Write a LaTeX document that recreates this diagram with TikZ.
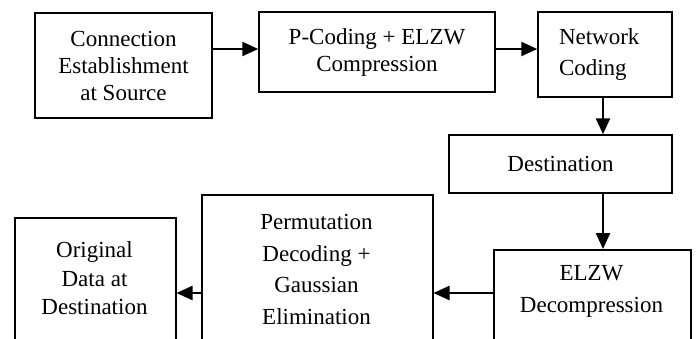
\documentclass[tikz,border=0pt]{standalone}
\usepackage{fontspec}
\setmainfont{Liberation Serif}
\usetikzlibrary{arrows.meta}
\begin{document}
\begin{tikzpicture}[x=1pt,y=1pt,
  box/.style={draw=black, line width=1.5pt, rectangle, inner sep=0pt},
  txt/.style={align=center, inner sep=0pt, font=\fontsize{23}{27}\selectfont},
  arr/.style={line width=2.4pt, -{Triangle[length=16pt,width=14pt]}}]
\clip (0,0) rectangle (696,-338);

% top row
\node[box, txt, minimum width=177pt, minimum height=105pt] (b1) at (123.5,-65.5)
  {Connection\\Establishment\\at Source};
\node[box, txt, minimum width=236pt, minimum height=80pt] (b2) at (377,-52)
  {P-Coding + ELZW\\Compression};
\node[box, txt, font=\fontsize{23}{31}\selectfont, align=left, text width=92pt,
  minimum width=134pt, minimum height=85pt] (b3) at (605,-54.5)
  {Network\\Coding};

% destination
\node[box, txt, minimum width=223pt, minimum height=58pt] (b4) at (560.5,-164)
  {Destination};

% bottom row (boxes run past the lower edge)
\node[box, anchor=north west, minimum width=197pt, minimum height=140pt] (b5) at (493,-249) {};
\node[txt, font=\fontsize{23}{32}\selectfont] (t5) at (591.5,-291.5) {ELZW\\Decompression};

\node[box, anchor=north west, minimum width=231pt, minimum height=190pt] (b6) at (201,-194) {};
\node[txt, font=\fontsize{23}{31.7}\selectfont] (t6) at (316.5,-269.5)
  {Permutation\\Decoding +\\Gaussian\\Elimination};

\node[box, anchor=north west, minimum width=161pt, minimum height=170pt] (b7) at (14,-217) {};
\node[txt, font=\fontsize{23}{28.5}\selectfont] (t7) at (94.5,-278.5)
  {Original\\Data at\\Destination};

% connectors
\coordinate (r1) at (0,-49);
\coordinate (r2) at (0,-293);
\draw[arr] (b1.east |- r1) -- (b2.west |- r1);
\draw[arr] (b2.east |- r1) -- (b3.west |- r1);
\draw[arr] ([xshift=-2pt]b3.south) -- ([xshift=-2pt]b3.south |- b4.north);
\draw[arr] ([xshift=-2pt]b3.south |- b4.south) -- ([xshift=-2pt]b3.south |- b5.north);
\draw[arr] (b5.west |- r2) -- (b6.east |- r2);
\draw[arr] (b6.west |- r2) -- (b7.east |- r2);
\end{tikzpicture}
\end{document}
